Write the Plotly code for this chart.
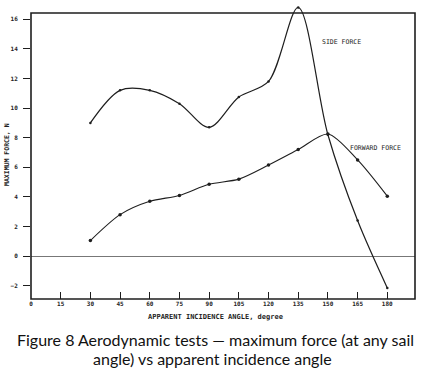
import plotly.graph_objects as go

angles = [30, 45, 60, 75, 90, 105, 120, 135, 150, 165, 180]
side_force = [9.0, 11.2, 11.2, 10.3, 8.7, 10.75, 11.8, 16.8, 8.2, 2.4, -2.15]
forward_force = [1.05, 2.8, 3.7, 4.1, 4.85, 5.2, 6.15, 7.2, 8.25, 6.5, 4.05]
x_ticks = [0, 15, 30, 45, 60, 75, 90, 105, 120, 135, 150, 165, 180]
y_ticks = [-2, 0, 2, 4, 6, 8, 10, 12, 14, 16]

W, H = 424, 373
L, R, T, B = 31, 9, 6, 74
PW, PH = W - L - R, H - T - B

def px(x):
    return (x - L) / PW

def py(y):
    return (H - B - y) / PH

line_col = "#1e1e1e"
mono = "DejaVu Sans Mono"

fig = go.Figure()
fig.add_trace(go.Scatter(
    x=angles, y=side_force, mode="lines+markers",
    line=dict(color=line_col, width=1.2, shape="spline", smoothing=0.9),
    marker=dict(size=2.5, color=line_col), showlegend=False, hoverinfo="skip"))
fig.add_trace(go.Scatter(
    x=angles, y=forward_force, mode="lines+markers",
    line=dict(color=line_col, width=1.1, shape="spline", smoothing=0.8),
    marker=dict(size=3.5, color=line_col), showlegend=False, hoverinfo="skip"))

# frame (paper-referenced so it is not clipped)
fig.add_shape(type="rect", xref="paper", yref="paper", x0=0, x1=1,
              y0=0, y1=py(13),
              line=dict(color=line_col, width=1.6), layer="above")

fig.add_annotation(x=146, y=14.5, xref="x", yref="y", text="SIDE FORCE",
                   showarrow=False, xanchor="left", yanchor="middle",
                   font=dict(family=mono, size=6.5, color=line_col))
fig.add_annotation(x=160, y=7.3, xref="x", yref="y", text="FORWARD FORCE",
                   showarrow=False, xanchor="left", yanchor="middle",
                   font=dict(family=mono, size=6.5, color=line_col))

fig.add_annotation(x=px(215), y=py(317), xref="paper", yref="paper",
                   text="APPARENT INCIDENCE ANGLE, degree", showarrow=False,
                   xanchor="center", yanchor="middle",
                   font=dict(family=mono, size=7, color=line_col, weight="bold"))
fig.add_annotation(x=px(7), y=py(155), xref="paper", yref="paper",
                   text="MAXIMUM FORCE, N", showarrow=False, textangle=-90,
                   xanchor="center", yanchor="middle",
                   font=dict(family=mono, size=6.5, color=line_col, weight="bold"))
fig.add_annotation(x=px(215), y=py(339), xref="paper", yref="paper",
                   text="Figure 8 Aerodynamic tests \u2014 maximum force (at any sail",
                   showarrow=False, xanchor="center", yanchor="middle",
                   font=dict(family="Lato", size=16, color="#111"))
fig.add_annotation(x=px(212), y=py(358), xref="paper", yref="paper",
                   text="angle) vs apparent incidence angle",
                   showarrow=False, xanchor="center", yanchor="middle",
                   font=dict(family="Lato", size=16, color="#111"))

fig.update_layout(
    width=W, height=H, margin=dict(l=L, r=R, t=T, b=B),
    paper_bgcolor="white", plot_bgcolor="white", hovermode=False,
    xaxis=dict(range=[0, 194], tickvals=x_ticks, ticktext=[str(v) for v in x_ticks],
               ticks="inside", ticklen=7, tickwidth=1.2, tickcolor=line_col,
               showgrid=False, zeroline=False, showline=False, fixedrange=True,
               tickfont=dict(family=mono, size=6, color=line_col, weight="bold")),
    yaxis=dict(range=[-2.9, 16.9], tickvals=y_ticks,
               ticks="outside", ticklen=7, tickwidth=1.2, tickcolor=line_col,
               ticklabelstandoff=4, fixedrange=True,
               showgrid=False, zeroline=True, zerolinecolor="#777", zerolinewidth=1,
               showline=False,
               tickfont=dict(family=mono, size=6, color=line_col, weight="bold")),
)

fig.write_html("out.html", config={"displayModeBar": False},
               post_script="document.body.style.margin='0';")
